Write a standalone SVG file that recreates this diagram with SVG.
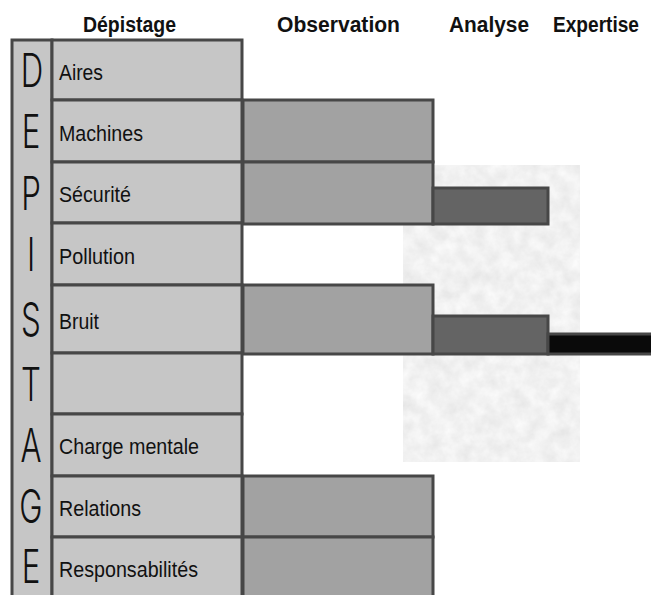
<svg xmlns="http://www.w3.org/2000/svg" width="651" height="595" viewBox="0 0 651 595">
<defs>
<filter id="tex" x="0" y="0" width="100%" height="100%" filterUnits="objectBoundingBox">
<feTurbulence type="fractalNoise" baseFrequency="0.07" numOctaves="4" seed="7" result="n"/>
<feColorMatrix in="n" type="matrix" values="0.22 0 0 0 0.77  0.22 0 0 0 0.77  0.22 0 0 0 0.77  0 0 0 0 1" result="g"/>
<feComposite in="g" in2="SourceGraphic" operator="in"/>
</filter>
</defs>
<style>
.hdr{font-family:"Liberation Sans",Arial,sans-serif;font-weight:bold;font-size:22px;fill:#111}
.lbl{font-family:"Liberation Sans",Arial,sans-serif;font-size:22px;fill:#111}
.big{font-family:Inter,"Liberation Sans",sans-serif;font-weight:300;font-size:46px;fill:#111;text-anchor:middle}
.cell{fill:#c6c6c6;stroke:#474747;stroke-width:3}
.obs{fill:#a2a2a2;stroke:#474747;stroke-width:3}
.ana{fill:#646464;stroke:#474747;stroke-width:3}
.exp{fill:#0a0a0a;stroke:#474747;stroke-width:3}
</style>
<rect width="651" height="595" fill="#ffffff"/>
<g id="texture">
<rect x="403" y="165" width="177" height="297" fill="#fff" filter="url(#tex)"/>
</g>
<g id="headers">
<text class="hdr" x="83" y="32" textLength="93" lengthAdjust="spacingAndGlyphs">Dépistage</text>
<text class="hdr" x="277" y="32" textLength="123" lengthAdjust="spacingAndGlyphs">Observation</text>
<text class="hdr" x="449" y="32" textLength="80" lengthAdjust="spacingAndGlyphs">Analyse</text>
<text class="hdr" x="553" y="32" textLength="86" lengthAdjust="spacingAndGlyphs">Expertise</text>
</g>
<g id="observation">
<rect class="obs" x="243" y="100" width="190" height="62"/>
<rect class="obs" x="243" y="162" width="190" height="62"/>
<rect class="obs" x="243" y="285" width="190" height="69"/>
<rect class="obs" x="243" y="476" width="190" height="61"/>
<rect class="obs" x="243" y="537" width="190" height="62"/>
</g>
<g id="analyse">
<rect class="ana" x="433" y="188" width="115" height="36"/>
<rect class="ana" x="433" y="316" width="115" height="38"/>
</g>
<g id="expertise">
<rect class="exp" x="548" y="334" width="106" height="20"/>
</g>
<g id="depistage-strip">
<rect class="cell" x="12" y="40" width="40" height="560"/>
<text class="big" transform="translate(32,87) scale(0.68,1)">D</text>
<text class="big" transform="translate(31,148) scale(0.68,1)">E</text>
<text class="big" transform="translate(31,210) scale(0.68,1)">P</text>
<text class="big" transform="translate(31,271) scale(0.68,1)">I</text>
<text class="big" transform="translate(31,336) scale(0.68,1)">S</text>
<text class="big" transform="translate(31,401) scale(0.68,1)">T</text>
<text class="big" transform="translate(31,462) scale(0.68,1)">A</text>
<text class="big" transform="translate(31,523) scale(0.68,1)">G</text>
<text class="big" transform="translate(31,583) scale(0.68,1)">E</text>
</g>
<g id="row-aires">
<rect class="cell" x="52" y="40" width="190" height="60"/>
<text class="lbl" x="59" y="80" textLength="44" lengthAdjust="spacingAndGlyphs">Aires</text>
</g>
<g id="row-machines">
<rect class="cell" x="52" y="100" width="190" height="62"/>
<text class="lbl" x="59" y="141" textLength="84" lengthAdjust="spacingAndGlyphs">Machines</text>
</g>
<g id="row-securite">
<rect class="cell" x="52" y="162" width="190" height="61"/>
<text class="lbl" x="59" y="202" textLength="72" lengthAdjust="spacingAndGlyphs">Sécurité</text>
</g>
<g id="row-pollution">
<rect class="cell" x="52" y="223" width="190" height="62"/>
<text class="lbl" x="59" y="264" textLength="76" lengthAdjust="spacingAndGlyphs">Pollution</text>
</g>
<g id="row-bruit">
<rect class="cell" x="52" y="285" width="190" height="68"/>
<text class="lbl" x="59" y="329" textLength="40" lengthAdjust="spacingAndGlyphs">Bruit</text>
</g>
<g id="row-empty">
<rect class="cell" x="52" y="353" width="190" height="61"/>
</g>
<g id="row-charge">
<rect class="cell" x="52" y="414" width="190" height="62"/>
<text class="lbl" x="59" y="454" textLength="140" lengthAdjust="spacingAndGlyphs">Charge mentale</text>
</g>
<g id="row-relations">
<rect class="cell" x="52" y="476" width="190" height="61"/>
<text class="lbl" x="59" y="516" textLength="82" lengthAdjust="spacingAndGlyphs">Relations</text>
</g>
<g id="row-responsabilites">
<rect class="cell" x="52" y="537" width="190" height="62"/>
<text class="lbl" x="59" y="577" textLength="139" lengthAdjust="spacingAndGlyphs">Responsabilités</text>
</g>
<g id="connectors"></g>
</svg>
